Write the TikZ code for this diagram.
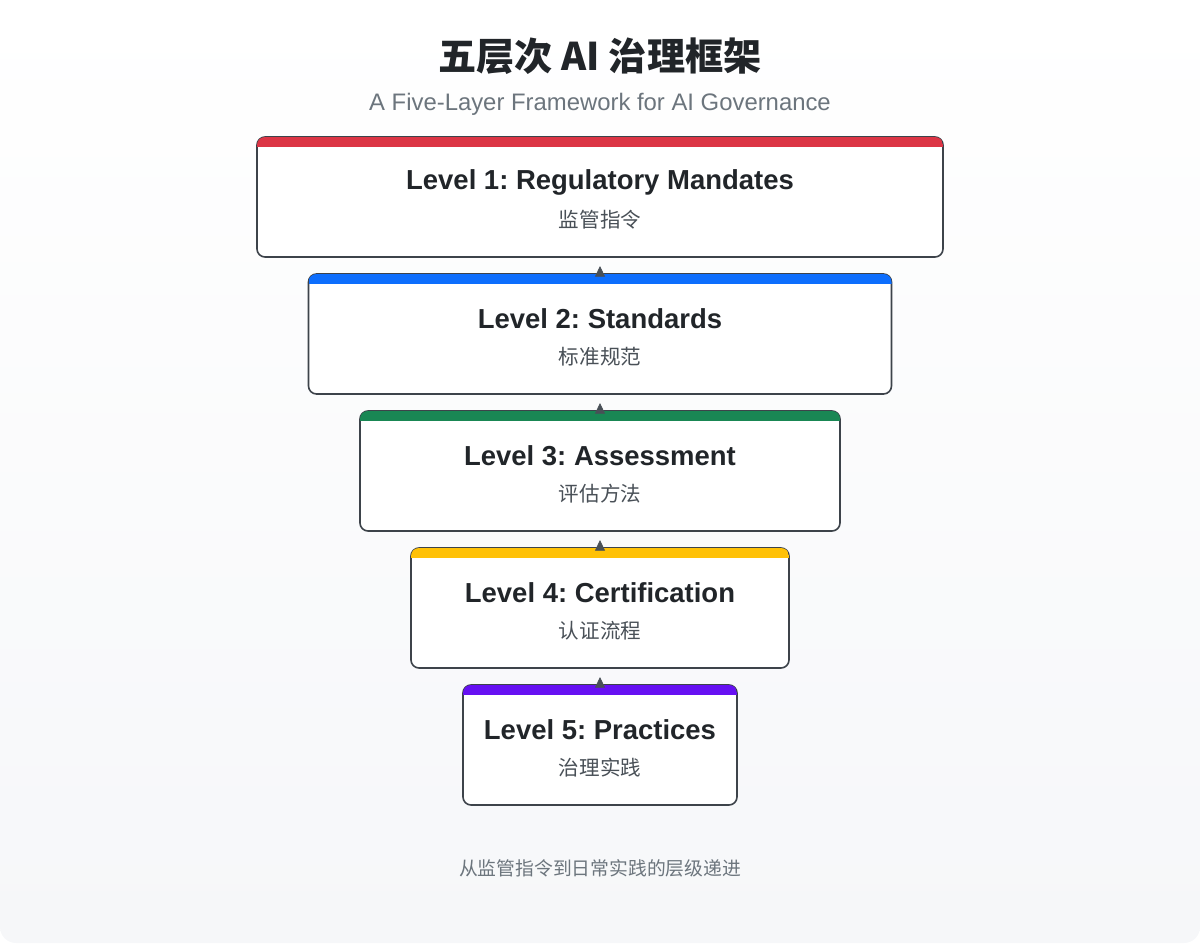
\documentclass[tikz,border=0pt]{standalone}
\usepackage{fontspec}
\setmainfont{Liberation Sans}
\newfontfamily\cjk{Noto Sans CJK SC}
\usetikzlibrary{arrows.meta}
\frenchspacing

\definecolor{ink}{HTML}{212529}
\definecolor{mute}{HTML}{6C757D}
\definecolor{subink}{HTML}{495057}
\definecolor{edge}{HTML}{3D434A}
\definecolor{bgbot}{HTML}{F6F7F9}
\definecolor{lvred}{HTML}{DC3545}
\definecolor{lvblue}{HTML}{0D6EFD}
\definecolor{lvgreen}{HTML}{198754}
\definecolor{lvyellow}{HTML}{FFC107}
\definecolor{lvpurple}{HTML}{6610F2}

\tikzset{
  levelbox/.style={draw=edge, line width=1.2pt, fill=white, rounded corners=6pt,
    minimum height=90pt, inner sep=0pt, outer sep=0pt},
  leveltitle/.style={text=ink, font=\fontsize{20.6}{24}\selectfont\bfseries},
  levelsub/.style={text=subink, font=\cjk\fontsize{15.4}{18}\selectfont},
  flowarrow/.style={draw=subink, line width=0.6pt, -{Triangle[length=8pt,width=7.5pt]},
    shorten >=6.75pt, shorten <=-2.25pt}
}

\begin{document}
\begin{tikzpicture}[x=0.75pt,y=-0.75pt]
\useasboundingbox (0,0) rectangle (1200,943);
\shade[top color=white, bottom color=bgbot, rounded corners=12pt] (0,0) rectangle (1200,943);

% title
\node[text=ink, font=\cjk\fontsize{28.6}{33}\selectfont\bfseries] (title) at (600,56) {五层次 AI 治理框架};
\node[text=mute, font=\fontsize{17.9}{21}\selectfont] (subtitle) at (600,104.5) {A Five-Layer Framework for AI Governance};

% levels
\foreach \i/\w/\col/\txt/\sub in {1/686/lvred/{Regulatory Mandates}/监管指令,
    2/583/lvblue/Standards/标准规范, 3/480/lvgreen/Assessment/评估方法,
    4/378/lvyellow/Certification/认证流程, 5/274/lvpurple/Practices/治理实践} {
  \node[levelbox, minimum width=\w*0.75pt] (lv\i) at (600,{197+137*(\i-1)}) {};
  \begin{scope}
    \clip[rounded corners=6pt] (lv\i.north west) rectangle (lv\i.south east);
    \fill[\col] ([yshift=1pt]lv\i.north west) rectangle ([yshift=-7.5pt]lv\i.north east);
  \end{scope}
  \node[leveltitle] (lt\i) at (600,{182+137*(\i-1)}) {Level \i: \txt};
  \node[levelsub] (ls\i) at (600,{220+137*(\i-1)}) {\sub};
}

% arrows
\foreach \j [count=\i from 2] in {1,...,4}
  \draw[flowarrow] (lv\i.north) -- (lv\j.south);

\node[text=mute, font=\cjk\fontsize{14.1}{17}\selectfont] (note) at (600,868) {从监管指令到日常实践的层级递进};
\end{tikzpicture}
\end{document}
